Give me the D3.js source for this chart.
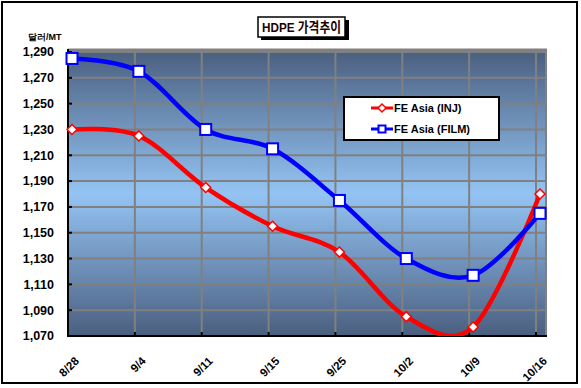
<!DOCTYPE html>
<html>
<head>
<meta charset="utf-8">
<script src="https://cdn.jsdelivr.net/npm/d3@7"></script>
<style>
  body { margin: 0; background: #fff; }
  svg { display: block; font-family: Arial, "Liberation Sans", sans-serif; }
</style>
</head>
<body>
<svg id="chart" width="581" height="388"></svg>
<script>
const dates = ['8/28', '9/4', '9/11', '9/15', '9/25', '10/2', '10/9', '10/16'];
const injPrices = [1230, 1225, 1185, 1155, 1135, 1085, 1077, 1180];
const filmPrices = [1285, 1275, 1230, 1215, 1175, 1130, 1117, 1165];
const yTicks = [1070, 1090, 1110, 1130, 1150, 1170, 1190, 1210, 1230, 1250, 1270, 1290];

const plot = {left: 68, right: 546, top: 51, bottom: 336};

const svg = d3.select('#chart');

// outer frame
svg.append('rect')
    .attr('x', 2).attr('y', 2)
    .attr('width', 575).attr('height', 381)
    .attr('fill', '#fff')
    .attr('stroke', '#000')
    .attr('stroke-width', 2);

// scales
const x = d3.scalePoint().domain(dates).range([72, 540]);
const y = d3.scaleLinear().domain([1070, 1290]).range([plot.bottom, plot.top + 1]);
const gridX = d => x(d) - 4;

// background gradient
const defs = svg.append('defs');
const grad = defs.append('linearGradient')
    .attr('id', 'bg').attr('x1', 0).attr('y1', 0).attr('x2', 0).attr('y2', 1);
grad.append('stop').attr('offset', '0%').attr('stop-color', '#4a5f7f');
grad.append('stop').attr('offset', '50%').attr('stop-color', '#94c4f4');
grad.append('stop').attr('offset', '100%').attr('stop-color', '#4a5f7f');

defs.append('clipPath').attr('id', 'clip')
    .append('rect')
    .attr('x', plot.left).attr('y', plot.top - 4)
    .attr('width', plot.right - plot.left + 4).attr('height', plot.bottom - plot.top + 4);

svg.append('rect')
    .attr('x', plot.left).attr('y', plot.top)
    .attr('width', plot.right - plot.left).attr('height', plot.bottom - plot.top)
    .attr('fill', 'url(#bg)');

// gridlines
const grid = svg.append('g').attr('stroke', '#808080').attr('stroke-width', 2);
grid.selectAll('.hg')
    .data(yTicks)
    .join('line')
    .attr('x1', plot.left).attr('x2', plot.right)
    .attr('y1', d => y(d)).attr('y2', d => y(d));
grid.selectAll('.vg')
    .data(dates.slice(1))
    .join('line')
    .attr('x1', gridX).attr('x2', gridX)
    .attr('y1', plot.top).attr('y2', plot.bottom);
grid.append('line')
    .attr('x1', plot.right).attr('x2', plot.right)
    .attr('y1', plot.top).attr('y2', plot.bottom);
grid.append('line')
    .attr('x1', plot.left).attr('x2', plot.right + 1)
    .attr('y1', plot.top - 1).attr('y2', plot.top - 1)
    .attr('stroke-width', 3);

// axes lines
const axisG = svg.append('g').attr('stroke', '#000').attr('stroke-width', 2);
axisG.append('line')
    .attr('x1', plot.left).attr('x2', plot.left)
    .attr('y1', plot.top - 2).attr('y2', plot.bottom + 1);
axisG.append('line')
    .attr('x1', plot.left).attr('x2', plot.right + 1)
    .attr('y1', plot.bottom).attr('y2', plot.bottom);
axisG.selectAll('.xt')
    .data(dates.slice(1))
    .join('line')
    .attr('x1', gridX).attr('x2', gridX)
    .attr('y1', plot.bottom - 4).attr('y2', plot.bottom);
axisG.selectAll('.yt')
    .data(yTicks)
    .join('line')
    .attr('x1', plot.left).attr('x2', plot.left + 4)
    .attr('y1', d => y(d)).attr('y2', d => y(d));

// y tick labels
svg.append('g').selectAll('text')
    .data(yTicks)
    .join('text')
    .attr('x', 54)
    .attr('y', d => y(d))
    .attr('dy', '0.35em')
    .attr('text-anchor', 'end')
    .attr('font-size', 12.5)
    .attr('font-weight', 'bold')
    .text(d => d3.format(',')(d));

// x tick labels
svg.append('g').selectAll('text')
    .data(dates)
    .join('text')
    .attr('transform', d => `translate(${gridX(d) + 6},${plot.bottom + 20}) rotate(-45)`)
    .attr('text-anchor', 'end')
    .attr('dy', '0.7em')
    .attr('font-size', 11.5)
    .attr('font-weight', 'bold')
    .text(d => d);

// unit label
svg.append('text')
    .attr('x', 28).attr('y', 40)
    .attr('font-size', 9)
    .attr('font-weight', 'bold')
    .text('달러/MT');

// title box
svg.append('rect')
    .attr('x', 261).attr('y', 20).attr('width', 88).attr('height', 20)
    .attr('fill', '#000');
svg.append('rect')
    .attr('x', 258).attr('y', 17).attr('width', 87).attr('height', 20)
    .attr('fill', '#fff').attr('stroke', '#000').attr('stroke-width', 1.5);
svg.append('text')
    .attr('x', 262).attr('y', 27.5)
    .attr('dy', '0.36em')
    .attr('font-size', 13.5)
    .attr('font-weight', 'bold')
    .attr('fill', '#200')
    .attr('textLength', 79)
    .attr('lengthAdjust', 'spacingAndGlyphs')
    .style('font-family', 'Arial, "Noto Sans CJK KR", sans-serif')
    .text('HDPE 가격추이');

// series lines
const line = d3.line()
    .x((d, i) => x(dates[i]))
    .y(d => y(d))
    .curve(d3.curveCardinal.tension(0));

const series = [
    {name: 'FE Asia (INJ)', values: injPrices, color: '#ff0000', marker: 'diamond'},
    {name: 'FE Asia (FILM)', values: filmPrices, color: '#0000ff', marker: 'square'}
];

const lines = svg.append('g').attr('clip-path', 'url(#clip)');
lines.selectAll('path')
    .data(series)
    .join('path')
    .attr('d', d => line(d.values))
    .attr('fill', 'none')
    .attr('stroke', d => d.color)
    .attr('stroke-width', 4.5);

const drawMarker = (g, s, cx, cy, big) => {
    if (s.marker === 'square') {
        const sz = big ? 11 : 7;
        g.append('rect')
            .attr('x', cx - sz / 2).attr('y', cy - sz / 2)
            .attr('width', sz).attr('height', sz)
            .attr('fill', '#fff')
            .attr('stroke', s.color)
            .attr('stroke-width', 2);
    } else {
        const r = big ? 5 : 4;
        g.append('path')
            .attr('d', `M${cx},${cy - r}L${cx + r},${cy}L${cx},${cy + r}L${cx - r},${cy}Z`)
            .attr('fill', '#fff')
            .attr('stroke', s.color)
            .attr('stroke-width', 1.5);
    }
};

const markers = svg.append('g');
series.forEach(s => {
    s.values.forEach((v, i) => drawMarker(markers, s, x(dates[i]), y(v), true));
});

// legend
const legend = svg.append('g');
legend.append('rect')
    .attr('x', 344).attr('y', 97).attr('width', 155).attr('height', 43)
    .attr('fill', '#fff').attr('stroke', '#000').attr('stroke-width', 2);
series.forEach((s, i) => {
    const ly = 108 + i * 21;
    legend.append('line')
        .attr('x1', 371).attr('x2', 393)
        .attr('y1', ly).attr('y2', ly)
        .attr('stroke', s.color).attr('stroke-width', 3);
    drawMarker(legend, s, 382, ly, false);
    legend.append('text')
        .attr('x', 394).attr('y', ly)
        .attr('dy', '0.36em')
        .attr('font-size', 11)
        .attr('font-weight', 'bold')
        .attr('fill', '#000')
        .text(s.name);
});
</script>
</body>
</html>
